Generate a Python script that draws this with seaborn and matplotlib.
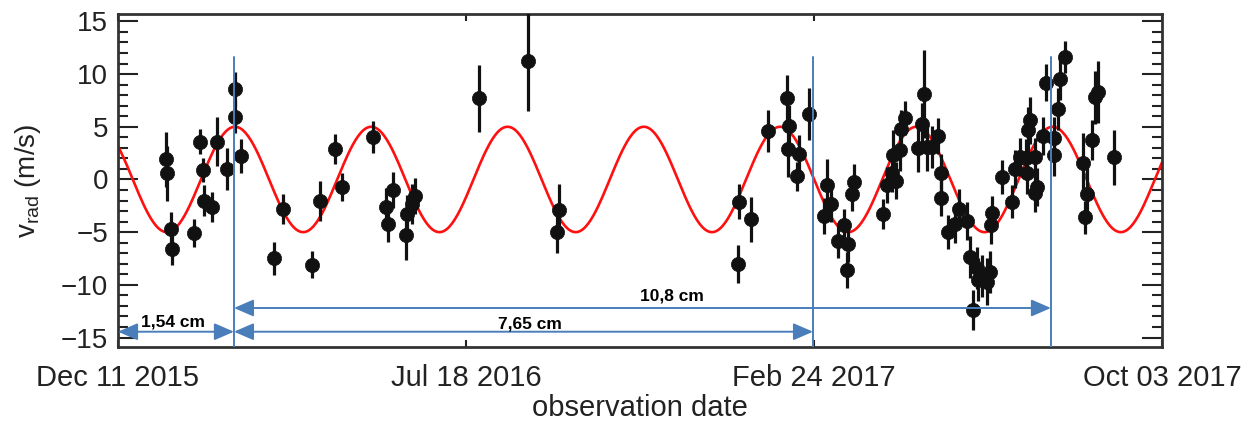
import numpy as np
import pandas as pd
import matplotlib
matplotlib.use("Agg")
import matplotlib.pyplot as plt
import seaborn as sns

# observation day (days after Dec 11 2015), radial velocity and its error (m/s)
obs_day = [29.3, 29.9, 32.4, 33.0, 46.5, 50.6, 52.5, 53.1, 58.0, 60.7,
           67.0, 71.9, 72.1, 75.5, 95.9, 101.6, 119.1, 124.2, 133.4, 137.6,
           157.0, 164.8, 166.2, 169.3, 177.5, 177.1, 180.6, 182.6, 222.0, 251.9,
           271.2, 270.1, 381.1, 381.9, 389.1, 399.5, 411.2, 412.8, 411.8, 418.8,
           417.7, 425.1, 436.2, 438.3, 434.1, 442.9, 446.6, 449.1, 448.0, 452.6,
           451.5, 470.2, 473.1, 475.8, 476.7, 478.4, 480.9, 481.3, 483.9, 492.1,
           494.2, 495.8, 497.3, 500.4, 504.4, 505.9, 506.1, 510.6, 514.7, 517.3,
           521.9, 523.9, 526.0, 528.0, 529.0, 531.1, 534.2, 536.2, 536.6, 537.3,
           543.4, 549.6, 551.6, 554.7, 558.4, 558.8, 559.8, 560.8, 563.9, 563.9,
           564.9, 569.0, 570.6, 575.8, 575.8, 577.9, 579.3, 582.3, 593.6, 596.0,
           594.6, 599.1, 600.8, 602.8, 612.7]
v_rad = [1.9, 0.6, -4.7, -6.6, -5.1, 3.6, 0.9, -2.0, -2.6, 3.6,
         1.0, 5.9, 8.6, 2.2, -7.5, -2.8, -8.1, -2.0, 2.9, -0.7,
         4.0, -2.6, -4.2, -1.0, -3.3, -5.3, -2.3, -1.6, 7.7, 11.2,
         -2.9, -5.0, -8.0, -2.1, -3.8, 4.6, 7.7, 5.1, 2.9, 2.4,
         0.3, 6.2, -0.5, -2.3, -3.5, -5.8, -4.3, -6.1, -8.6, -0.2,
         -1.4, -3.3, -0.5, 0.6, 2.3, -0.1, 2.8, 4.8, 5.8, 3.0,
         5.3, 8.1, 3.1, 3.1, 4.1, 0.6, -1.8, -5.0, -4.2, -2.8,
         -3.9, -7.4, -12.4, -8.4, -9.5, -9.2, -9.7, -8.8, -4.3, -3.2,
         0.2, -2.1, 1.0, 2.1, 2.0, 0.6, 4.7, 5.6, 2.1, -1.3,
         -0.7, 4.1, 9.2, 3.9, 2.3, 6.7, 9.5, 11.6, 1.6, -1.4,
         -3.6, 3.7, 7.8, 8.3, 2.1]
v_err = [2.6, 2.6, 1.6, 1.5, 1.3, 1.2, 1.1, 1.5, 1.4, 2.3,
         2.0, 1.5, 1.6, 1.6, 1.6, 1.4, 1.3, 1.9, 1.4, 1.3,
         1.5, 1.8, 1.7, 1.7, 1.8, 2.3, 1.9, 1.7, 3.2, 4.7,
         2.5, 2.0, 1.8, 1.7, 2.1, 2.0, 2.2, 2.0, 2.7, 1.8,
         1.4, 2.5, 2.4, 1.7, 1.7, 1.7, 1.5, 1.7, 1.7, 1.7,
         1.6, 1.4, 1.7, 1.8, 2.4, 1.8, 2.0, 1.8, 1.6, 2.3,
         2.0, 4.2, 2.3, 2.0, 1.7, 1.8, 1.7, 1.6, 1.8, 1.9,
         1.8, 2.0, 1.9, 2.0, 2.0, 2.0, 2.2, 2.0, 1.8, 1.6,
         1.6, 1.6, 1.8, 1.8, 1.8, 2.0, 2.2, 2.2, 1.8, 1.8,
         1.8, 1.8, 1.8, 2.0, 2.0, 2.0, 2.0, 1.5, 2.8, 2.5,
         1.6, 1.9, 2.5, 2.9, 2.6]

# sinusoidal model
amplitude = 5.0
period = 83.8
peak_day = 71.95

# x axis ticks
tick_days = [0, 214, 428, 642]
tick_labels = ['Dec 11 2015', 'Jul 18 2016', 'Feb 24 2017', 'Oct 03 2017']

# blue markers and distance arrows
marker_days = [71.3, 427.4, 573.7]
arrow_spans = [(0, 71.3, -14.45), (71.3, 427.4, -14.45), (71.3, 573.7, -12.2)]
arrow_texts = ['1,54 cm', '7,65 cm', '10,8 cm']
text_pos = [(34.1, -13.5), (253.3, -13.7), (340.7, -11.06)]

df = pd.DataFrame({'day': obs_day, 'v': v_rad, 'err': v_err})
model_day = np.linspace(0, 642, 800)
model = pd.DataFrame({'day': model_day,
                      'v': amplitude * np.cos(2 * np.pi * (model_day - peak_day) / period)})

sns.set_theme(style='ticks')
plt.rcParams['font.family'] = ['Liberation Sans', 'DejaVu Sans']
plt.rcParams['mathtext.fontset'] = 'custom'
plt.rcParams['mathtext.rm'] = 'Liberation Sans'

ink = '#111111'
blue = '#4a7ebb'

fig = plt.figure(figsize=(12.5, 4.21), dpi=100)
ax = fig.add_axes([0.0944, 0.1758, 0.8352, 0.7909])

sns.lineplot(data=model, x='day', y='v', color='#ff1010', linewidth=1.9, ax=ax, zorder=2)
ax.errorbar(df['day'], df['v'], yerr=df['err'], fmt='none', ecolor=ink,
            elinewidth=2.3, capsize=0, zorder=3)
sns.scatterplot(data=df, x='day', y='v', color=ink, s=105, edgecolor=ink,
                linewidth=0.5, ax=ax, zorder=4)

ax.set_xlim(0, 642)
ax.set_ylim(-15.9, 15.7)

for d in marker_days:
    ax.plot([d, d], [-15.9, 11.6], color=blue, linewidth=1.4, zorder=5)

for (x0, x1, y), txt, (tx, ty) in zip(arrow_spans, arrow_texts, text_pos):
    ax.annotate('', xy=(x1, y), xytext=(x0, y),
                arrowprops=dict(arrowstyle='<|-|>,head_length=0.6,head_width=0.26',
                                color=blue, lw=1.4, mutation_scale=20,
                                shrinkA=0, shrinkB=0), zorder=6)
    ax.text(tx, ty, txt, ha='center', va='center', fontsize=12.5,
            fontweight='bold', color='black', zorder=7)

ax.set_xticks(tick_days)
ax.set_xticklabels(tick_labels)
ax.set_yticks(np.arange(-15, 16, 5))
ax.set_yticks(np.arange(-15, 16, 1), minor=True)
ax.tick_params(axis='y', which='major', direction='in', length=14.4, width=1.5,
               left=True, right=True, labelsize=20, pad=7, colors='#222222')
ax.tick_params(axis='y', which='minor', direction='in', length=7.2, width=1.5,
               left=True, right=True, colors='#222222')
ax.tick_params(axis='x', which='major', direction='in', length=5, width=1.5,
               top=True, bottom=True, labelsize=21, pad=12, colors='#222222')
ax.set_yticklabels(['\u221215', '\u221210', '\u22125', '0', '5', '10', '15'])

for s in ax.spines.values():
    s.set_linewidth(2.0)
    s.set_color('#333333')

ax.set_xlabel('observation date', fontsize=21, color='#222222', labelpad=2)
ax.set_ylabel(r'$\mathregular{v_{rad}}$ (m/s)', fontsize=20, color='#222222', labelpad=13)

fig.savefig('out.png', dpi=100)
